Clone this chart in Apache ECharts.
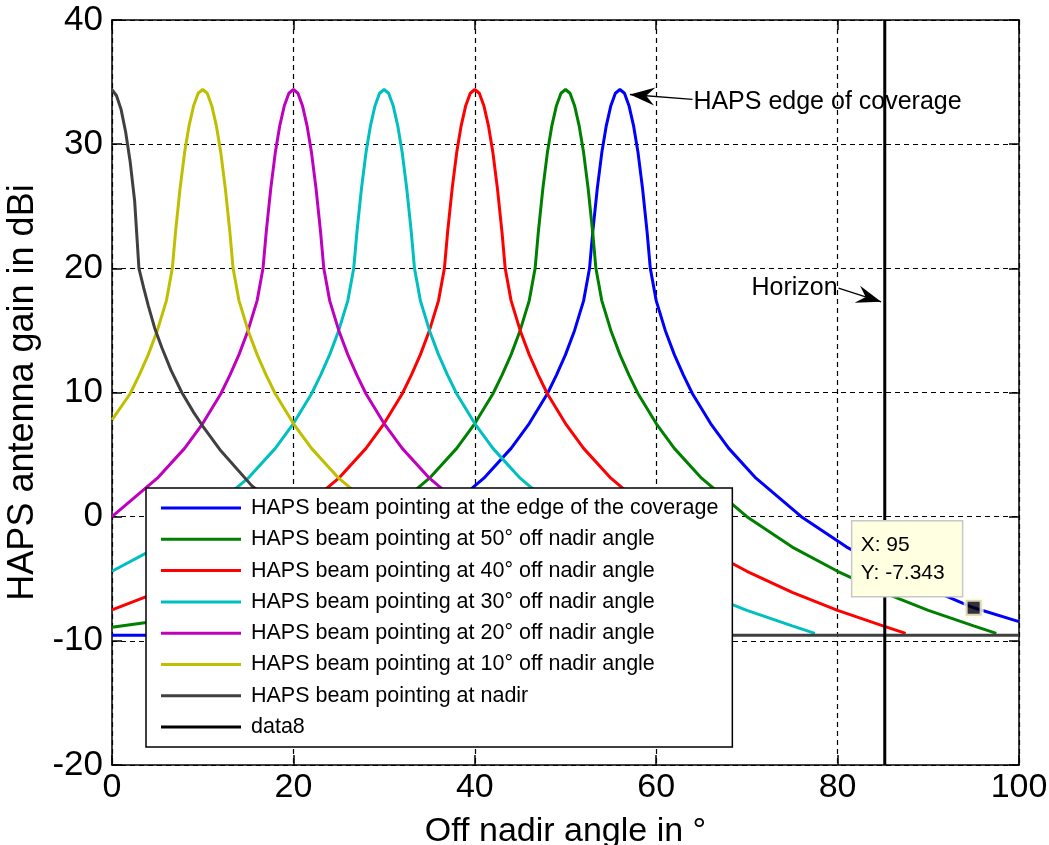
<!DOCTYPE html>
<html>
<head>
<meta charset="utf-8">
<script src="https://cdn.jsdelivr.net/npm/echarts@6/dist/echarts.min.js"></script>
<style>
html,body{margin:0;padding:0;background:#fff;}
#chart{width:1049px;height:845px;}
</style>
</head>
<body>
<div id="chart"></div>
<script>
// ---- Data (x = off nadir angle in °, y = gain in dBi) ----
const beamEdge = [[0,-9.55],[8,-9.55],[8.5,-9.4],[11,-8.8],[16,-7.55],[21,-6.1],[26,-4.4],[31,-2.45],[36,0],[41,3.1],[44,5.5],[46,7.5],[48,9.9],[49,11.4],[50,13.05],[51,15.0],[52,17.4],[52.65,20],[53,22.9],[53.5,26.4],[54,29.3],[54.5,31.5],[55,33.1],[55.5,34.1],[56,34.4],[56.5,34.1],[57,33.1],[57.5,31.5],[58,29.3],[58.5,26.4],[59,22.9],[59.35,20],[60,17.4],[61,15.0],[62,13.05],[63,11.4],[64,9.9],[66,7.5],[68,5.5],[71,3.1],[76,0],[81,-2.45],[86,-4.4],[91,-6.1],[95,-7.34],[100,-8.45]];
const beam50 = [[0,-8.9],[4,-8.5],[10,-7.55],[15,-6.1],[20,-4.4],[25,-2.45],[30,0],[35,3.1],[38,5.5],[40,7.5],[42,9.9],[43,11.4],[44,13.05],[45,15.0],[46,17.4],[46.65,20],[47,22.9],[47.5,26.4],[48,29.3],[48.5,31.5],[49,33.1],[49.5,34.1],[50,34.4],[50.5,34.1],[51,33.1],[51.5,31.5],[52,29.3],[52.5,26.4],[53,22.9],[53.35,20],[54,17.4],[55,15.0],[56,13.05],[57,11.4],[58,9.9],[60,7.5],[62,5.5],[65,3.1],[70,0],[75,-2.45],[80,-4.4],[85,-6.1],[90,-7.55],[95,-8.8],[97.5,-9.4]];
const beam40 = [[0,-7.5],[5,-6.1],[10,-4.4],[15,-2.45],[20,0],[25,3.1],[28,5.5],[30,7.5],[32,9.9],[33,11.4],[34,13.05],[35,15.0],[36,17.4],[36.65,20],[37,22.9],[37.5,26.4],[38,29.3],[38.5,31.5],[39,33.1],[39.5,34.1],[40,34.4],[40.5,34.1],[41,33.1],[41.5,31.5],[42,29.3],[42.5,26.4],[43,22.9],[43.35,20],[44,17.4],[45,15.0],[46,13.05],[47,11.4],[48,9.9],[50,7.5],[52,5.5],[55,3.1],[60,0],[65,-2.45],[70,-4.4],[75,-6.1],[80,-7.55],[85,-8.8],[87.5,-9.4]];
const beam30 = [[0,-4.4],[5,-2.45],[10,0],[15,3.1],[18,5.5],[20,7.5],[22,9.9],[23,11.4],[24,13.05],[25,15.0],[26,17.4],[26.65,20],[27,22.9],[27.5,26.4],[28,29.3],[28.5,31.5],[29,33.1],[29.5,34.1],[30,34.4],[30.5,34.1],[31,33.1],[31.5,31.5],[32,29.3],[32.5,26.4],[33,22.9],[33.35,20],[34,17.4],[35,15.0],[36,13.05],[37,11.4],[38,9.9],[40,7.5],[42,5.5],[45,3.1],[50,0],[55,-2.45],[60,-4.4],[65,-6.1],[70,-7.55],[75,-8.8],[77.5,-9.4]];
const beam20 = [[0,0],[5,3.1],[8,5.5],[10,7.5],[12,9.9],[13,11.4],[14,13.05],[15,15.0],[16,17.4],[16.65,20],[17,22.9],[17.5,26.4],[18,29.3],[18.5,31.5],[19,33.1],[19.5,34.1],[20,34.4],[20.5,34.1],[21,33.1],[21.5,31.5],[22,29.3],[22.5,26.4],[23,22.9],[23.35,20],[24,17.4],[25,15.0],[26,13.05],[27,11.4],[28,9.9],[30,7.5],[32,5.5],[35,3.1],[40,0],[45,-2.45],[50,-4.4],[55,-6.1],[60,-7.55],[65,-8.8],[67.5,-9.4]];
const beam10 = [[0,7.8],[2,9.9],[3,11.4],[4,13.05],[5,15.0],[6,17.4],[6.65,20],[7,22.9],[7.5,26.4],[8,29.3],[8.5,31.5],[9,33.1],[9.5,34.1],[10,34.4],[10.5,34.1],[11,33.1],[11.5,31.5],[12,29.3],[12.5,26.4],[13,22.9],[13.35,20],[14,17.4],[15,15.0],[16,13.05],[17,11.4],[18,9.9],[20,7.5],[22,5.5],[25,3.1],[30,0],[35,-2.45],[40,-4.4],[45,-6.1],[50,-7.55],[55,-8.8],[57.5,-9.4]];
const beamNadir = [[0,34.4],[0.5,33.9],[1,32.8],[1.5,31.0],[2,28.6],[2.5,25.4],[2.97,20.0],[3.5,18.4],[4,17.0],[4.7,15.2],[5.5,13.6],[6.5,11.8],[7.7,10.0],[9,8.4],[10,7.3],[12,5.3],[15.4,2.5],[20,-0.1],[25,-2.5],[30,-4.5],[35,-6.1],[40,-7.6],[45,-8.8],[47.5,-9.4],[48.5,-9.55],[100,-9.55]];
const horizonLine = [[85.2,-20],[85.2,40]];
const dataTip = [95, -7.343];

const seriesNames = [
  'HAPS beam pointing at the edge of the coverage',
  'HAPS beam pointing at 50° off nadir angle',
  'HAPS beam pointing at 40° off nadir angle',
  'HAPS beam pointing at 30° off nadir angle',
  'HAPS beam pointing at 20° off nadir angle',
  'HAPS beam pointing at 10° off nadir angle',
  'HAPS beam pointing at nadir',
  'data8'
];
const seriesData = [beamEdge, beam50, beam40, beam30, beam20, beam10, beamNadir, horizonLine];
const seriesColors = ['#0000ff','#008000','#ff0000','#00bfbf','#bf00bf','#bfbf00','#404040','#000000'];

const xTicks = [0,20,40,60,80,100];
const yTicks = [-20,-10,0,10,20,30,40];

const FONT = "'Liberation Sans', Arial, sans-serif";

const chart = echarts.init(document.getElementById('chart'), null, {renderer:'canvas'});

const gridLine = {show:true, lineStyle:{color:'#000', width:1.2, type:[5,4]}};
const axisLineStyle = {show:true, onZero:false, lineStyle:{color:'#000', width:1.5}};
const tickInside = {show:true, inside:true, length:10, lineStyle:{color:'#000', width:1.5}};

const series = seriesData.map((d, i) => ({
  name: seriesNames[i],
  type: 'line',
  data: d,
  showSymbol: false,
  symbol: 'none',
  smooth: false,
  animation: false,
  lineStyle: {color: seriesColors[i], width: 3},
  itemStyle: {color: seriesColors[i]},
  z: 3 + i * 0.01,
  emphasis: {disabled: true}
}));
series.push({
  name: 'datatip',
  type: 'scatter',
  data: [dataTip],
  symbol: 'rect',
  symbolSize: 16,
  animation: false,
  itemStyle: {color: '#000', borderColor: '#ffffe1', borderWidth: 4},
  z: 20,
  emphasis: {disabled: true}
});

chart.setOption({
  animation: false,
  backgroundColor: '#fff',
  grid: {left: 112, right: 30, top: 20, bottom: 80, containLabel: false, outerBoundsMode: 'none'},
  xAxis: [{
    type: 'value', min: xTicks[0], max: xTicks[xTicks.length-1], interval: 20,
    position: 'bottom',
    name: 'Off nadir angle in °', nameLocation: 'middle', nameGap: 50,
    nameTextStyle: {fontFamily: FONT, fontSize: 34, color: '#000'},
    axisLine: axisLineStyle, axisTick: tickInside, splitLine: gridLine,
    axisLabel: {fontFamily: FONT, fontSize: 34, color: '#000', margin: 6}
  },{
    type: 'value', min: xTicks[0], max: xTicks[xTicks.length-1], interval: 20,
    position: 'top',
    axisLine: axisLineStyle, axisTick: tickInside, splitLine: {show:false},
    axisLabel: {show:false}
  }],
  yAxis: [{
    type: 'value', min: yTicks[0], max: yTicks[yTicks.length-1], interval: 10,
    position: 'left',
    name: 'HAPS antenna gain in dBi', nameLocation: 'middle', nameGap: 64, nameRotate: 90,
    nameTextStyle: {fontFamily: FONT, fontSize: 36, color: '#000'},
    axisLine: axisLineStyle, axisTick: tickInside, splitLine: gridLine,
    axisLabel: {fontFamily: FONT, fontSize: 35, color: '#000', margin: 9}
  },{
    type: 'value', min: yTicks[0], max: yTicks[yTicks.length-1], interval: 10,
    position: 'right',
    axisLine: axisLineStyle, axisTick: tickInside, splitLine: {show:false},
    axisLabel: {show:false}
  }],
  legend: {
    data: seriesNames,
    orient: 'vertical',
    left: 146, top: 488,
    backgroundColor: '#fff',
    borderColor: '#000', borderWidth: 1.5,
    padding: [9, 14, 9, 15],
    icon: 'rect', itemWidth: 80, itemHeight: 3, itemGap: 9.3,
    selectedMode: false,
    textStyle: {fontFamily: FONT, fontSize: 21.5, color: '#000', lineHeight: 22, padding: [0,0,0,5]},
    z: 10
  },
  tooltip: {show: false},
  series: series
});

// ---- annotations (positions given in data coordinates) ----
const annotations = [
  {text: 'HAPS edge of coverage', textAt: [64.1, 33.4], from: [64.0, 33.6], to: [57.1, 34.0]},
  {text: 'Horizon', textAt: [70.5, 18.4], from: [80.1, 18.4], to: [84.8, 17.3]}
];

function px(p){ return chart.convertToPixel({gridIndex: 0}, p); }

function arrowHead(tip, from, L, W){
  const dx = tip[0]-from[0], dy = tip[1]-from[1];
  const len = Math.sqrt(dx*dx+dy*dy);
  const ux = dx/len, uy = dy/len, nx = -uy, ny = ux;
  return [
    [tip[0], tip[1]],
    [tip[0]-ux*L + nx*W/2, tip[1]-uy*L + ny*W/2],
    [tip[0]-ux*L*0.65, tip[1]-uy*L*0.65],
    [tip[0]-ux*L - nx*W/2, tip[1]-uy*L - ny*W/2]
  ];
}

const graphics = [];
annotations.forEach(a => {
  const t = px(a.textAt), f = px(a.from), to = px(a.to);
  graphics.push({type:'line', shape:{x1:f[0], y1:f[1], x2:to[0], y2:to[1]}, style:{stroke:'#000', lineWidth:1.3}, z:30});
  graphics.push({type:'polygon', shape:{points: arrowHead(to, f, 25, 18)}, style:{fill:'#000'}, z:31});
  graphics.push({type:'text', x:t[0], y:t[1], style:{text:a.text, font:"25px 'Liberation Sans', Arial, sans-serif", fill:'#000', textAlign:'left', textVerticalAlign:'middle'}, z:32});
});

const tp = px(dataTip);
const boxX = tp[0]-122, boxY = tp[1]-87;
graphics.push({type:'rect', shape:{x:boxX, y:boxY, width:111, height:76}, style:{fill:'#ffffe1', stroke:'#c8c8c8', lineWidth:1.5}, z:40});
graphics.push({type:'text', x:boxX+9, y:boxY+24, style:{text:'X: ' + dataTip[0], font:"21px 'Liberation Sans', Arial, sans-serif", fill:'#000', textVerticalAlign:'middle'}, z:41});
graphics.push({type:'text', x:boxX+9, y:boxY+52, style:{text:'Y: ' + dataTip[1], font:"21px 'Liberation Sans', Arial, sans-serif", fill:'#000', textVerticalAlign:'middle'}, z:41});

chart.setOption({graphic: graphics});
</script>
</body>
</html>
